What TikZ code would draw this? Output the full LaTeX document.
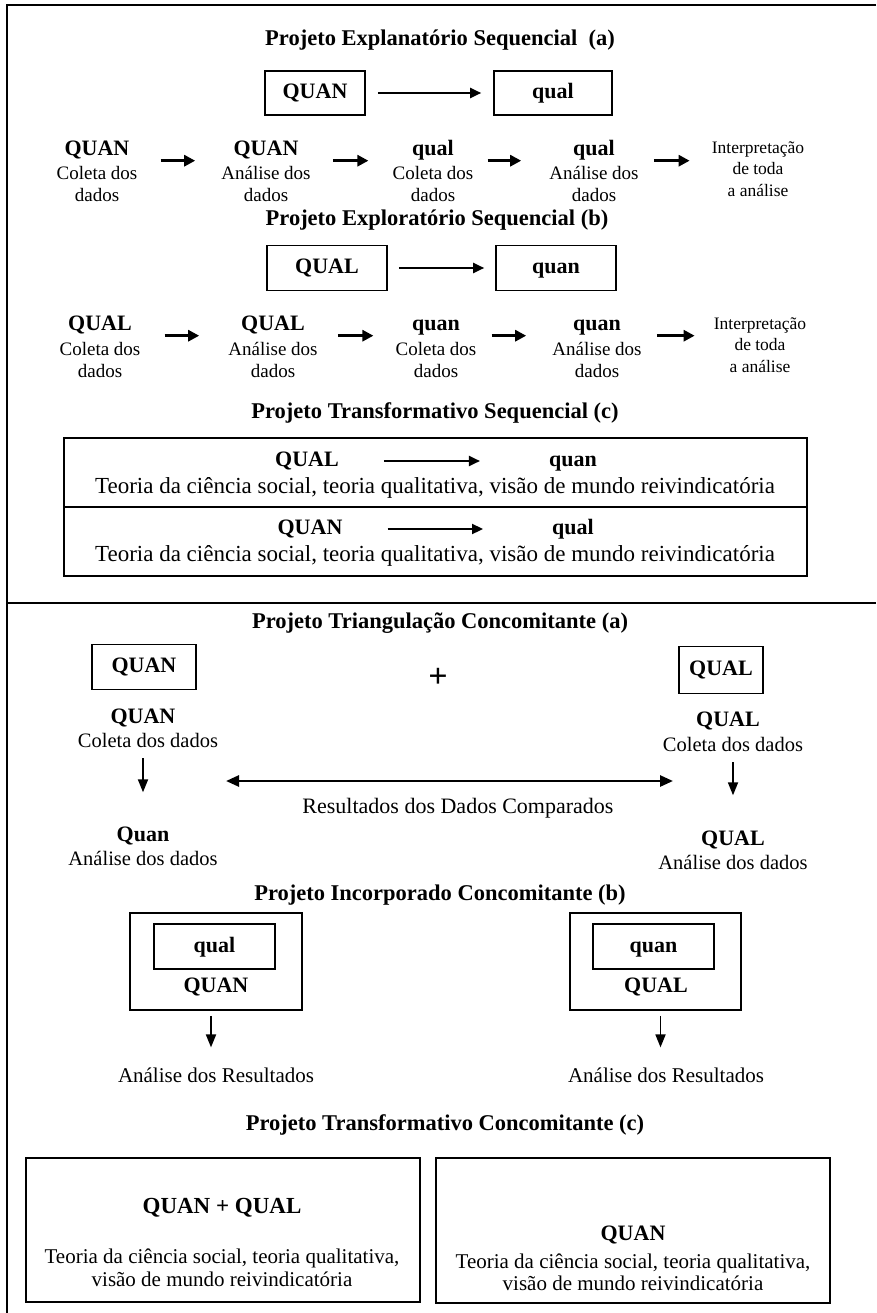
\documentclass[tikz,border=0pt]{standalone}
\usepackage{fontspec}
\setmainfont{Liberation Serif}
\usetikzlibrary{arrows.meta}
\tikzstyle{box}=[draw=black,line width=1.6pt,inner sep=0pt]
\tikzstyle{hd}=[font=\fontsize{22}{24}\selectfont\bfseries,inner sep=0pt,
                text height=16pt,text depth=5pt]
\tikzstyle{ttl}=[font=\fontsize{22.5}{25}\selectfont\bfseries,inner sep=0pt]
\tikzstyle{sub}=[font=\fontsize{19}{22}\selectfont,align=center,inner sep=0pt]
\tikzstyle{note}=[font=\fontsize{17.5}{21.5}\selectfont,align=center,inner sep=0pt]
\tikzstyle{txt}=[font=\fontsize{20.5}{22}\selectfont,align=center,inner sep=0pt]
\tikzstyle{big}=[font=\fontsize{23}{26}\selectfont,align=center,inner sep=0pt]
\tikzstyle{harrow}=[line width=2.8pt,-{Triangle[length=11pt,width=11pt]}]
\tikzstyle{larrow}=[line width=2.2pt,-{Triangle[length=11pt,width=10pt]}]
\tikzstyle{varrow}=[line width=1.8pt,-{Triangle[length=13pt,width=10pt]}]
\tikzstyle{darrow}=[line width=2.6pt,
                    {Triangle[length=13pt,width=11pt]}-{Triangle[length=13pt,width=11pt]}]
\begin{document}
\begin{tikzpicture}[x=1pt,y=-1pt]
    \useasboundingbox (0,0) rectangle (876,1313);
    % frame
    \draw[line width=1.8pt] (876,5) -- (7,5) -- (7,1313);
    \draw[line width=1.8pt] (7,603) -- (876,603);

    % sequencial (a)
    \node (tA) at (440,40) [ttl]{Projeto Explanatório Sequencial\ \ (a)};
    \node (aQ) at (315,93) [box,minimum width=100pt,minimum height=44pt,hd]{QUAN};
    \node (aq) at (553,93) [box,minimum width=118pt,minimum height=44pt,hd]{qual};
    \draw[larrow,shorten <=12pt,shorten >=12pt] (aQ) -- (aq);
    \node (r1a) at (97,150) [hd]{QUAN};
    \node (r1at) at (97,184) [sub]{Coleta dos\\dados};
    \node (r1b) at (266,150) [hd]{QUAN};
    \node (r1bt) at (266,184) [sub]{Análise dos\\dados};
    \node (r1c) at (433,150) [hd]{qual};
    \node (r1ct) at (433,184) [sub]{Coleta dos\\dados};
    \node (r1d) at (594,150) [hd]{qual};
    \node (r1dt) at (594,184) [sub]{Análise dos\\dados};
    \node (r1e) at (758,169) [note]{Interpretação\\de toda\\a análise};
    \draw[harrow,shorten <=23pt,shorten >=26pt] (r1at.east |- r1a.south) -- (r1bt.west |- r1a.south);
    \draw[harrow,shorten <=22pt,shorten >=24pt] (r1bt.east |- r1a.south) -- (r1ct.west |- r1a.south);
    \draw[harrow,shorten <=14pt,shorten >=28pt] (r1ct.east |- r1a.south) -- (r1dt.west |- r1a.south);
    \draw[harrow,shorten <=15pt,shorten >=22pt] (r1dt.east |- r1a.south) -- (r1e.west |- r1a.south);

    % sequencial (b)
    \node (tB) at (437,220) [ttl]{Projeto Exploratório Sequencial (b)};
    \node (bQ) at (327,268) [box,minimum width=120pt,minimum height=45pt,hd]{QUAL};
    \node (bq) at (556,268) [box,minimum width=120pt,minimum height=45pt,hd]{quan};
    \draw[larrow,shorten <=11pt,shorten >=11pt] (bQ) -- (bq);
    \node (r2a) at (100,325) [hd]{QUAL};
    \node (r2at) at (100,360) [sub]{Coleta dos\\dados};
    \node (r2b) at (273,325) [hd]{QUAL};
    \node (r2bt) at (273,360) [sub]{Análise dos\\dados};
    \node (r2c) at (436,325) [hd]{quan};
    \node (r2ct) at (436,360) [sub]{Coleta dos\\dados};
    \node (r2d) at (597,325) [hd]{quan};
    \node (r2dt) at (597,360) [sub]{Análise dos\\dados};
    \node (r2e) at (760,345) [note]{Interpretação\\de toda\\a análise};
    \draw[harrow,shorten <=24pt,shorten >=29pt] (r2at.east |- r2a.south) -- (r2bt.west |- r2a.south);
    \draw[harrow,shorten <=20pt,shorten >=22pt] (r2bt.east |- r2a.south) -- (r2ct.west |- r2a.south);
    \draw[harrow,shorten <=15pt,shorten >=26pt] (r2ct.east |- r2a.south) -- (r2dt.west |- r2a.south);
    \draw[harrow,shorten <=15pt,shorten >=19pt] (r2dt.east |- r2a.south) -- (r2e.west |- r2a.south);

    % sequencial (c)
    \node (tC) at (435,413) [ttl]{Projeto Transformativo Sequencial (c)};
    \node (c1) at (435.5,472.5) [box,minimum width=743pt,minimum height=69pt]{};
    \node (c2) at (435.5,541.5) [box,minimum width=743pt,minimum height=69pt]{};
    \node (c1Q) at (307,461) [hd]{QUAL};
    \node (c1q) at (573,461) [hd]{quan};
    \node (c1t) at (435,488) [big]{Teoria da ciência social, teoria qualitativa, visão de mundo reivindicatória};
    \draw[larrow,shorten <=45pt,shorten >=69pt] (c1Q) -- (c1q);
    \node (c2Q) at (310,529) [hd]{QUAN};
    \node (c2q) at (573,529) [hd]{qual};
    \node (c2t) at (435,556) [big]{Teoria da ciência social, teoria qualitativa, visão de mundo reivindicatória};
    \draw[larrow,shorten <=45pt,shorten >=69pt] (c2Q) -- (c2q);

    % concomitante (a)
    \node (tT) at (440,623) [ttl]{Projeto Triangulação Concomitante (a)};
    \node (tQ) at (144,667) [box,minimum width=104pt,minimum height=45pt,hd]{QUAN};
    \node (tplus) at (438,678) [font=\fontsize{34}{36}\selectfont\bfseries,inner sep=0pt]{+};
    \node (tq) at (721,670) [box,minimum width=84pt,minimum height=47pt,hd]{QUAL};
    \node (tL1) at (143,718) [hd]{QUAN};
    \node (tL2) at (148,740) [txt]{Coleta dos dados};
    \node (tR1) at (728,721) [hd]{QUAL};
    \node (tR2) at (733,744) [txt]{Coleta dos dados};
    \node (tL3) at (143,836) [hd]{Quan};
    \node (tL4) at (143,858) [txt]{Análise dos dados};
    \node (tR3) at (733,840) [hd]{QUAL};
    \node (tR4) at (733,862) [txt]{Análise dos dados};
    \draw[varrow,shorten <=11pt,shorten >=33pt] (tL3 |- tL2.south) -- (tL3.north);
    \draw[varrow,shorten <=11pt,shorten >=34pt] (tR3 |- tR2.south) -- (tR3.north);
    \coordinate (cmpL) at (226,781);
    \coordinate (cmpR) at (673,781);
    \draw[darrow] (cmpL) -- (cmpR);
    \node (tres) at (458,808) [big,font=\fontsize{22}{24}\selectfont]{Resultados dos Dados Comparados};

    % concomitante (b)
    \node (tI) at (440,895) [ttl]{Projeto Incorporado Concomitante (b)};
    \node (eL) at (216,961.5) [box,minimum width=172pt,minimum height=97pt]{};
    \node (eLi) at (214.5,946.5) [box,minimum width=121pt,minimum height=45pt,hd]{qual};
    \node (eLb) at (216,987) [hd]{QUAN};
    \node (eR) at (655.5,961.5) [box,minimum width=171pt,minimum height=97pt]{};
    \node (eRi) at (653.5,946.5) [box,minimum width=121pt,minimum height=45pt,hd]{quan};
    \node (eRb) at (656,987) [hd]{QUAL};
    \node (rL) at (216,1075) [big,font=\fontsize{21}{23}\selectfont]{Análise dos Resultados};
    \node (rR) at (666,1075) [big,font=\fontsize{21}{23}\selectfont]{Análise dos Resultados};
    \draw[varrow,shorten <=5pt,shorten >=20pt] ([xshift=-5pt]eL.south) -- ([xshift=-5pt]eL.south |- rL.north);
    \draw[varrow,shorten <=5pt,shorten >=20pt] ([xshift=5pt]eR.south) -- ([xshift=5pt]eR.south |- rR.north);

    % concomitante (c)
    \node (tF) at (445,1125) [ttl]{Projeto Transformativo Concomitante (c)};
    \node (fL) at (223,1230) [box,minimum width=394pt,minimum height=144pt]{};
    \node (fR) at (633,1230.5) [box,minimum width=394pt,minimum height=145pt]{};
    \node (fL1) at (222,1208) [hd,font=\fontsize{23}{25}\selectfont\bfseries]{QUAN + QUAL};
    \node (fL2) at (222,1268) [big,font=\fontsize{21}{23}\selectfont]{Teoria da ciência social, teoria qualitativa,\\visão de mundo reivindicatória};
    \node (fR1) at (633,1235) [hd]{QUAN};
    \node (fR2) at (633,1272) [big,font=\fontsize{21}{22}\selectfont]{Teoria da ciência social, teoria qualitativa,\\visão de mundo reivindicatória};
  \end{tikzpicture}
\end{document}
